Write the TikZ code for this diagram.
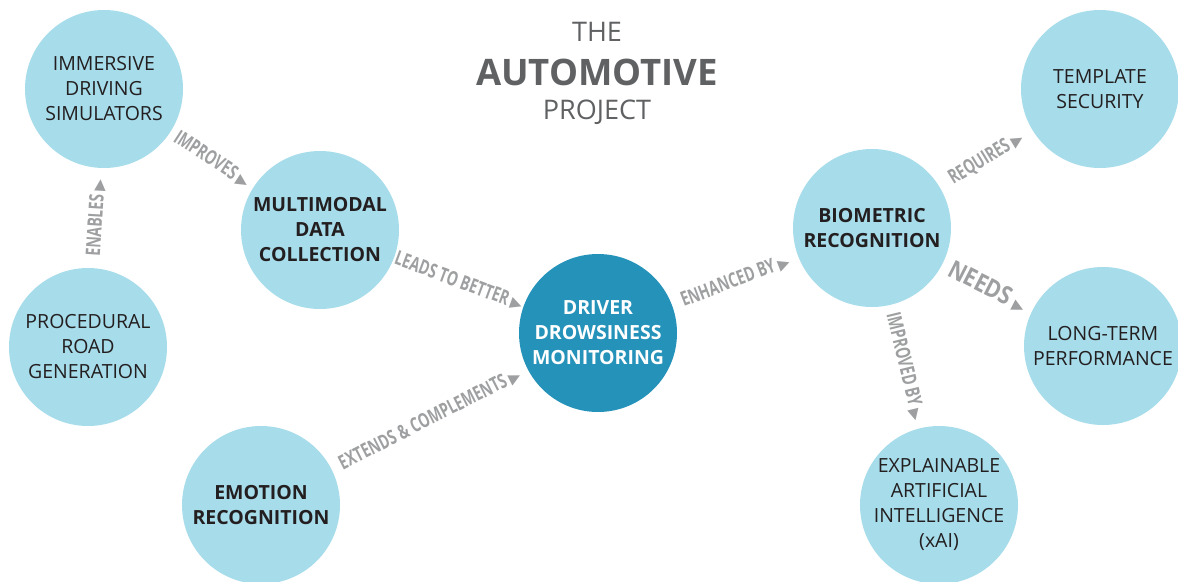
\documentclass[tikz,border=0pt]{standalone}
\usepackage{fontspec}
\setmainfont{Open Sans}
\newfontfamily\lblfont{Open Sans}[FakeStretch=0.7]
\newfontfamily\widelblfont{Open Sans}[FakeStretch=0.85]
\newfontfamily\symfont{DejaVu Sans}
\definecolor{bubble}{HTML}{A7DCEA}
\definecolor{core}{HTML}{2592BA}
\definecolor{lblgray}{HTML}{9D9FA1}
\definecolor{titlegray}{HTML}{5F6163}
\definecolor{ink}{HTML}{231F20}
\newcommand{\tip}{\,{\symfont\fontsize{15}{15}\selectfont ▶}}

\begin{document}
\begin{tikzpicture}[x=1pt, y=-1pt,
    topic/.style={circle, fill=bubble, minimum size=158pt, inner sep=-4pt,
        align=center, text=ink, font=\fontsize{19.5}{25}\selectfont},
    keytopic/.style={topic, font=\bfseries\fontsize{19.5}{25}\selectfont},
    link/.style={midway, sloped, inner sep=0pt, text=lblgray,
        font=\lblfont\bfseries\fontsize{20}{20}\selectfont},
    heading/.style={anchor=base, text=titlegray}]

    \useasboundingbox (0,0) rectangle (1178,581);

    % title
    \node[heading, font=\fontsize{27}{27}\selectfont] (the) at (597,41) {THE};
    \node[heading, font=\bfseries\fontsize{36.5}{36.5}\selectfont] (auto) at (597,85) {AUTOMOTIVE};
    \node[heading, font=\fontsize{27}{27}\selectfont] (proj) at (597,119) {PROJECT};

    % topics
    \node[topic] (imm) at (104,89) {IMMERSIVE\\DRIVING\\SIMULATORS};
    \node[topic] (proc) at (88,347) {PROCEDURAL\\ROAD\\GENERATION};
    \node[keytopic] (multi) at (320,230) {MULTIMODAL\\DATA\\COLLECTION};
    \node[keytopic] (emo) at (261,505) {EMOTION\\RECOGNITION};
    \node[keytopic, fill=core, text=white] (ddm) at (598,333) {DRIVER\\DROWSINESS\\MONITORING};
    \node[keytopic] (bio) at (872,228) {BIOMETRIC\\RECOGNITION};
    \node[topic] (tmpl) at (1100,89) {TEMPLATE\\SECURITY};
    \node[topic] (ltp) at (1103,346) {LONG-TERM\\PERFORMANCE};
    \node[topic] (xai) at (939,505) {EXPLAINABLE\\ARTIFICIAL\\INTELLIGENCE\\(xAI)};

    % links
    \path (proc) -- node[link] {ENABLES\tip} (imm);
    \path (imm) -- node[link] {IMPROVES\tip} (multi);
    \path (multi) -- node[link] {LEADS TO BETTER\tip} (ddm);
    \path (emo) -- node[link] {EXTENDS \& COMPLEMENTS\tip} (ddm);
    \path (ddm) -- node[link] {ENHANCED BY\tip} (bio);
    \path (bio) -- node[link] {REQUIRES\tip} (tmpl);
    \path (bio) -- node[link, font=\widelblfont\bfseries\fontsize{25}{25}\selectfont] {NEEDS\tip} (ltp);
    \path (bio) -- node[link] {IMPROVED BY\tip} (xai);

\end{tikzpicture}
\end{document}
